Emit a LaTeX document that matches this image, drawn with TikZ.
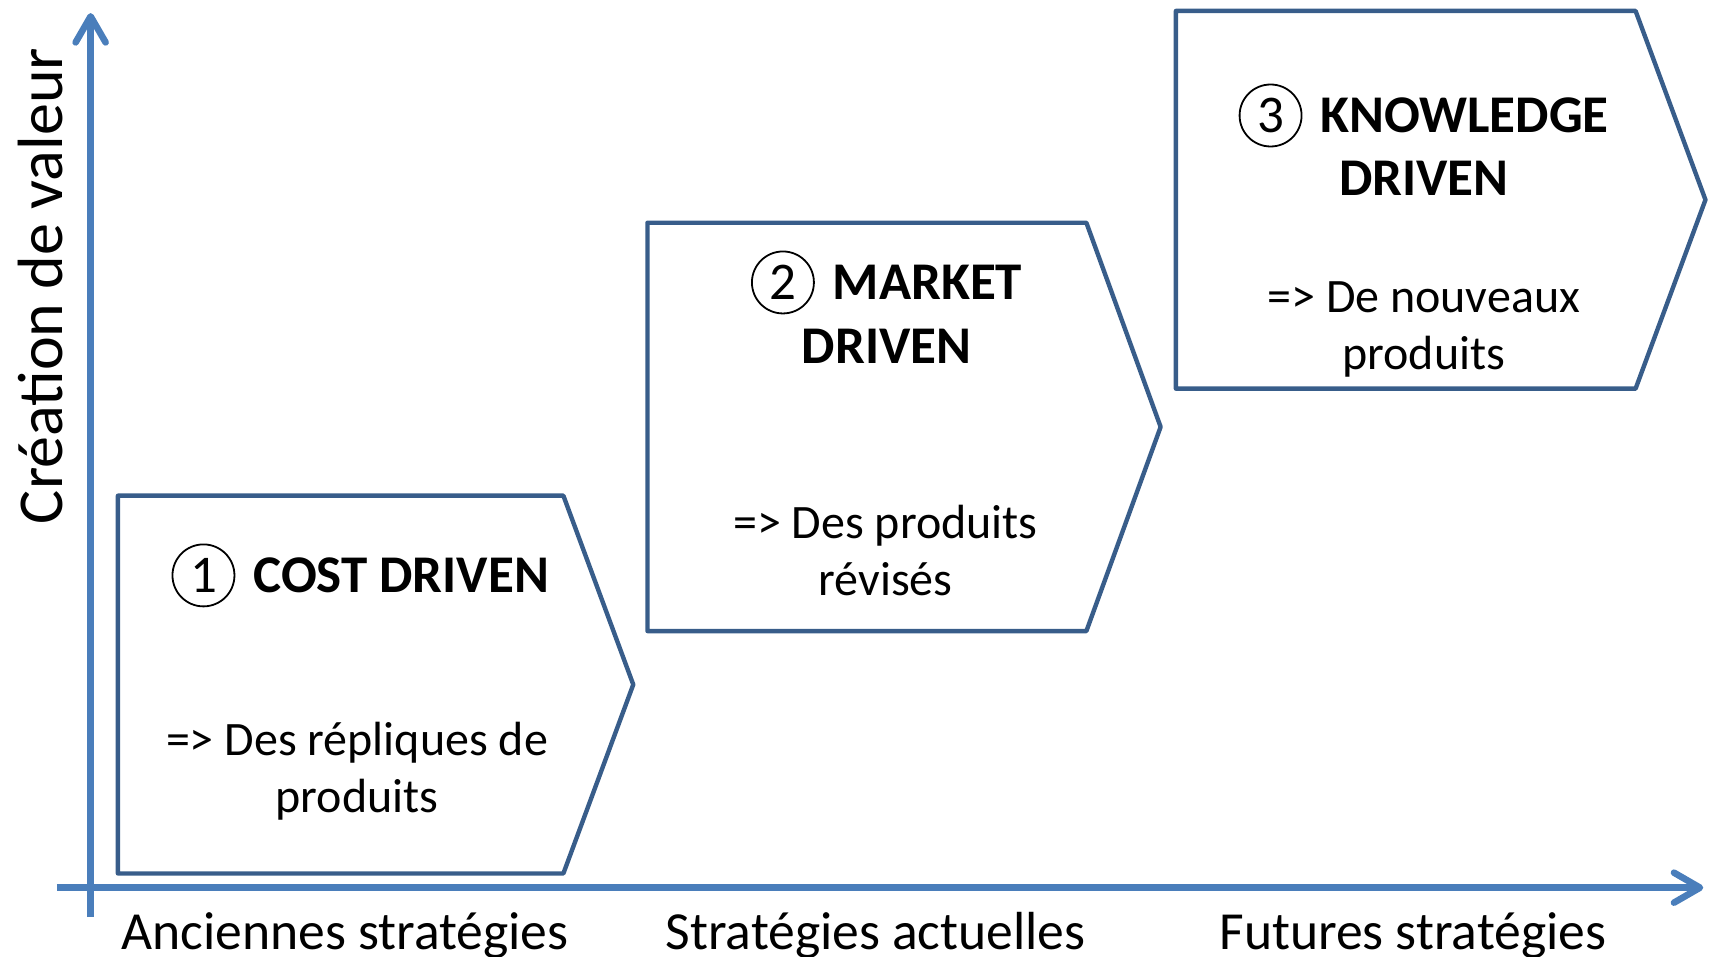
\documentclass[tikz,border=0pt]{standalone}
\usepackage{fontspec}
\setmainfont{Carlito}
\usetikzlibrary{arrows.meta}
\definecolor{axisblue}{RGB}{74,126,187}
\definecolor{boxblue}{RGB}{56,93,138}
\newcommand{\rond}[1]{\tikz[baseline=(r.base)]\node[circle,draw,line width=0.9pt,inner sep=0pt,minimum size=31pt] (r) {\mdseries #1};\hspace{3pt}}

\begin{document}
\begin{tikzpicture}[x=0.546pt,y=-0.546pt,
    axis/.style={draw=axisblue,line width=3.3pt,-{Straight Barb[length=13pt,width=15pt,round]}},
    stage/.style={draw=boxblue,line width=2.2pt,line join=round},
    title/.style={font=\fontsize{26.5}{31.7}\selectfont\bfseries,align=center},
    txt/.style={font=\fontsize{24}{28.4}\selectfont,align=center},
    lbl/.style={font=\fontsize{26.8}{30}\selectfont}]
    \useasboundingbox (0,0) rectangle (1568,876);
    % axes
    \coordinate (ybot) at (83,840);
    \coordinate (ytop) at (83,12);
    \coordinate (xleft) at (52,813);
    \coordinate (xright) at (1560,813);
    \draw[axis] (ybot) -- (ytop);
    \draw[axis] (xleft) -- (xright);
    \node[lbl, font=\fontsize{32}{34}\selectfont, rotate=90] (yl) at (37,262) {Création de valeur};
    \node[lbl] (x1) at (316,857) {Anciennes stratégies};
    \node[lbl] (x2) at (802,857) {Stratégies actuelles};
    \node[lbl] (x3) at (1294,857) {Futures stratégies};
    % stages
    \draw[stage] (108,454) -- (516,454) -- (580,627) -- (516,800) -- (108,800) -- cycle;
    \draw[stage] (593,204) -- (995,204) -- (1063,391) -- (995,578) -- (593,578) -- cycle;
    \draw[stage] (1077,10) -- (1498,10) -- (1562,183) -- (1498,356) -- (1077,356) -- cycle;
    \node[title] (t1) at (330,527) {\rond{1} COST DRIVEN};
    \node[txt] (b1) at (327,706) {=> Des répliques de\\produits};
    \node[title] (t2) at (812,281) {\rond{2} MARKET\\DRIVEN};
    \node[txt] (b2) at (811,504) {=> Des produits\\révisés};
    \node[title] (t3) at (1304,128) {\rond{3} KNOWLEDGE\\DRIVEN};
    \node[txt] (b3) at (1304,302) {=> De nouveaux\\produits};
\end{tikzpicture}
\end{document}
